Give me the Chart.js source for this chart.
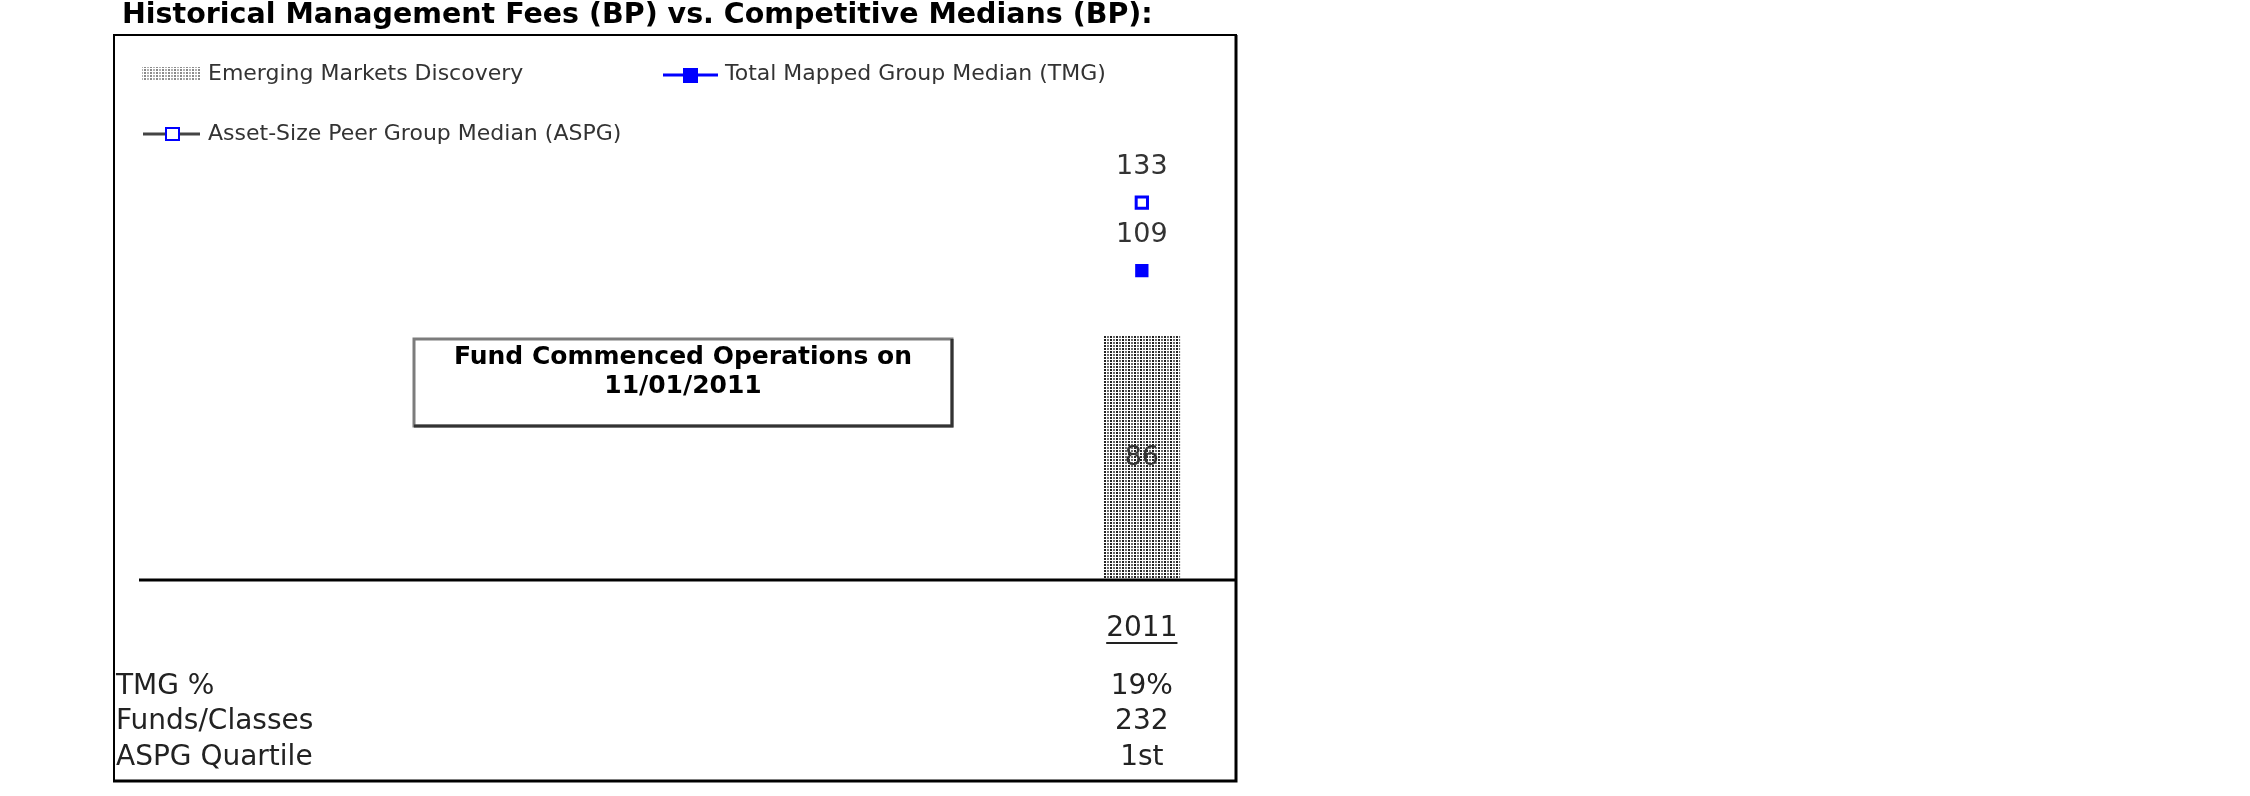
<!DOCTYPE html>
<html>
<head>
<meta charset="utf-8">
<title>Historical Management Fees</title>
<script src="https://cdn.jsdelivr.net/npm/chart.js@4.4.1/dist/chart.umd.min.js"></script>
<style>
  html, body { margin: 0; padding: 0; background: #fff; overflow: hidden; }
  #wrap { position: relative; width: 2250px; height: 796px; }
</style>
</head>
<body>
<div id="wrap"><canvas id="chartFees" width="2250" height="796"></canvas></div>
<script>
'use strict';

// --- datos ---
const years      = ['', '', '', '', '', '2011'];
const fundFees   = [null, null, null, null, null, 86];
const tmgMedian  = [null, null, null, null, null, 109];
const aspgMedian = [null, null, null, null, null, 133];

const seriesNames = [
  'Emerging Markets Discovery',
  'Total Mapped Group Median (TMG)',
  'Asset-Size Peer Group Median (ASPG)'
];
const tableLabels = ['TMG %', 'Funds/Classes', 'ASPG Quartile'];
const tableValues = ['19%', '232', '1st'];

const titleText = 'Historical Management Fees (BP) vs. Competitive Medians (BP):';
const noteLines = ['Fund Commenced Operations on', '11/01/2011'];

const FONT = "'DejaVu Sans', Verdana, sans-serif";
const BLUE = '#0000ff';

// patron punteado para la barra
function makePattern(dark, light) {
  const c = document.createElement('canvas');
  c.width = 6; c.height = 3;
  const g = c.getContext('2d');
  g.fillStyle = '#fff';
  g.fillRect(0, 0, 6, 3);
  g.fillStyle = dark;
  g.fillRect(0, 0, 2, 2);
  g.fillStyle = light;
  g.fillRect(3, 0, 2, 2);
  return g.createPattern(c, 'repeat');
}
const barPattern = makePattern('#222', '#6a6a6a');
const swatchPattern = makePattern('#8a8a8a', '#b0b0b0');

// marco, leyenda, nota y tabla
const decorPlugin = {
  id: 'decor',
  afterDraw(chart) {
    const ctx = chart.ctx;
    const area = chart.chartArea;
    const xs = chart.scales.x;
    const colX = xs.getPixelForValue(years.length - 1);
    ctx.save();

    // titulo
    ctx.fillStyle = '#000';
    ctx.font = 'bold 28.5px ' + FONT;
    ctx.textAlign = 'left';
    ctx.textBaseline = 'middle';
    ctx.fillText(titleText, 122, 16);

    // marco
    ctx.strokeStyle = '#000';
    ctx.lineWidth = 2;
    ctx.beginPath();
    ctx.moveTo(114, 782); ctx.lineTo(114, 35); ctx.lineTo(1237, 35);
    ctx.stroke();
    ctx.lineWidth = 3;
    ctx.beginPath();
    ctx.moveTo(1236, 35); ctx.lineTo(1236, 781); ctx.lineTo(113, 781);
    ctx.stroke();

    // eje x (llega hasta el marco)
    ctx.beginPath();
    ctx.moveTo(area.left, area.bottom); ctx.lineTo(1236, area.bottom);
    ctx.stroke();

    // leyenda
    ctx.font = '22px ' + FONT;
    ctx.textBaseline = 'middle';
    ctx.fillStyle = swatchPattern;
    ctx.fillRect(142, 67, 58, 14);
    ctx.fillStyle = '#333';
    ctx.fillText(seriesNames[0], 208, 74);

    ctx.strokeStyle = BLUE; ctx.lineWidth = 3;
    ctx.beginPath(); ctx.moveTo(663, 75); ctx.lineTo(718, 75); ctx.stroke();
    ctx.fillStyle = BLUE; ctx.fillRect(683, 68, 15, 15);
    ctx.fillStyle = '#333';
    ctx.fillText(seriesNames[1], 725, 74);

    ctx.strokeStyle = '#444'; ctx.lineWidth = 3;
    ctx.beginPath(); ctx.moveTo(143, 134); ctx.lineTo(200, 134); ctx.stroke();
    ctx.fillStyle = '#fff'; ctx.fillRect(166, 128, 13, 12);
    ctx.strokeStyle = BLUE; ctx.lineWidth = 2;
    ctx.strokeRect(166, 128, 13, 12);
    ctx.fillStyle = '#333';
    ctx.fillText(seriesNames[2], 208, 134);

    // nota
    ctx.fillStyle = '#fff';
    ctx.fillRect(414, 339, 538, 87);
    ctx.strokeStyle = '#7c7c7c'; ctx.lineWidth = 3;
    ctx.strokeRect(414, 339, 538, 87);
    ctx.strokeStyle = '#333';
    ctx.beginPath(); ctx.moveTo(414, 426); ctx.lineTo(952, 426); ctx.lineTo(952, 339); ctx.stroke();
    ctx.fillStyle = '#000';
    ctx.font = 'bold 25px ' + FONT;
    ctx.textAlign = 'center';
    ctx.fillText(noteLines[0], 683, 357);
    ctx.fillText(noteLines[1], 683, 386);

    // tabla
    ctx.font = '28px ' + FONT;
    ctx.fillStyle = '#222';
    ctx.textAlign = 'center';
    ctx.fillText(years[years.length - 1], colX, 629);
    const w = ctx.measureText(years[years.length - 1]).width;
    ctx.strokeStyle = '#222'; ctx.lineWidth = 2;
    ctx.beginPath(); ctx.moveTo(colX - w / 2, 643); ctx.lineTo(colX + w / 2, 643); ctx.stroke();

    const rowY = [687, 722, 758];
    tableLabels.forEach((lbl, i) => {
      ctx.textAlign = 'left';
      ctx.fillText(lbl, 116, rowY[i]);
      ctx.textAlign = 'center';
      ctx.fillText(tableValues[i], colX, rowY[i]);
    });
    ctx.restore();
  }
};

// etiquetas de valor
const valueLabels = {
  id: 'valueLabels',
  afterDatasetsDraw(chart) {
    const ctx = chart.ctx;
    ctx.save();
    ctx.font = '27px ' + FONT;
    ctx.fillStyle = '#333';
    ctx.textAlign = 'center';
    ctx.textBaseline = 'middle';
    chart.data.datasets.forEach((ds, di) => {
      const meta = chart.getDatasetMeta(di);
      meta.data.forEach((el, i) => {
        const v = ds.data[i];
        if (v == null) return;
        if (meta.type === 'bar') {
          ctx.fillText(String(v), el.x, (el.y + el.base) / 2);
        } else {
          ctx.fillText(String(v), el.x, el.y - 36);
        }
      });
    });
    ctx.restore();
  }
};

new Chart(document.getElementById('chartFees'), {
  type: 'bar',
  data: {
    labels: years,
    datasets: [
      {
        label: seriesNames[0],
        data: fundFees,
        backgroundColor: barPattern,
        borderWidth: 0,
        barPercentage: 0.42,
        categoryPercentage: 1,
        order: 3
      },
      {
        type: 'line',
        label: seriesNames[1],
        data: tmgMedian,
        borderColor: BLUE,
        backgroundColor: BLUE,
        borderWidth: 2,
        pointStyle: 'rect',
        pointRadius: 8,
        showLine: false,
        order: 1
      },
      {
        type: 'line',
        label: seriesNames[2],
        data: aspgMedian,
        borderColor: BLUE,
        backgroundColor: '#fff',
        pointBorderWidth: 3,
        pointStyle: 'rect',
        pointRadius: 8,
        showLine: false,
        order: 2
      }
    ]
  },
  options: {
    responsive: false,
    animation: false,
    devicePixelRatio: 1,
    layout: { padding: { left: 139, right: 1017, top: 126, bottom: 216 } },
    plugins: {
      legend: { display: false },
      title: { display: false },
      tooltip: { enabled: false }
    },
    scales: {
      x: { display: false, offset: true, grid: { display: false } },
      y: { display: false, min: 0, max: 160 }
    }
  },
  plugins: [decorPlugin, valueLabels]
});
</script>
</body>
</html>
